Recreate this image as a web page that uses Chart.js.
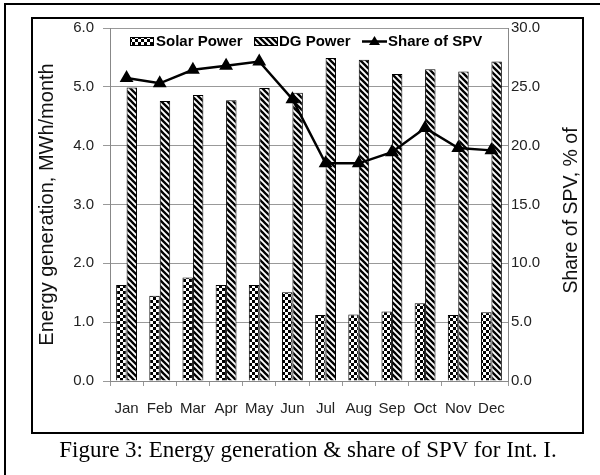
<!DOCTYPE html>
<html>
<head>
<meta charset="utf-8">
<script src="https://cdn.jsdelivr.net/npm/chart.js@4.4.1/dist/chart.umd.min.js"></script>
<style>
  html, body { margin: 0; padding: 0; background: #fff; width: 600px; height: 475px; overflow: hidden; }
  #wrap { position: relative; width: 600px; height: 475px; }
  #c { position: absolute; left: 0; top: 0; }
  .frame { position: absolute; pointer-events: none; box-sizing: border-box; }
  #outer { left: 4px; top: 3px; width: 700px; height: 600px; border-top: 2px solid #000; border-left: 2px solid #000; }
  #inner { left: 31px; top: 17px; width: 553px; height: 417px; border: 2px solid #000; }
  #caption { position: absolute; top: 437px; left: 308px; transform: translateX(-50%); white-space: nowrap;
             font-family: 'Liberation Serif', 'Times New Roman', serif; font-size: 23px; line-height: 26px; color: #000; }
</style>
</head>
<body>
<div id="wrap">
  <canvas id="c" width="600" height="475"></canvas>
  <div id="outer" class="frame"></div>
  <div id="inner" class="frame"></div>
  <div id="caption">Figure 3: Energy generation &amp; share of SPV for Int. I.</div>
</div>
<script>
// ---- data ----
const months = ['Jan','Feb','Mar','Apr','May','Jun','Jul','Aug','Sep','Oct','Nov','Dec'];
const solarPower = [1.63, 1.45, 1.76, 1.63, 1.63, 1.51, 1.12, 1.13, 1.18, 1.32, 1.12, 1.17];
const dgPower    = [4.99, 4.76, 4.86, 4.77, 4.98, 4.90, 5.49, 5.46, 5.22, 5.30, 5.26, 5.43];
const spvShare   = [25.75, 25.3, 26.45, 26.8, 27.15, 23.95, 18.5, 18.5, 19.45, 21.5, 19.8, 19.6];
const leftTicks  = [0, 1, 2, 3, 4, 5, 6];
const rightTicks = [0, 5, 10, 15, 20, 25, 30];
const seriesNames = ['Solar Power', 'DG Power', 'Share of SPV'];
const leftTitle  = 'Energy generation, MWh/month';
const rightTitle = 'Share of SPV, % of';

// ---- patterns ----
function checkerPattern() {
  const q = 3, c = document.createElement('canvas'); c.width = 2 * q; c.height = 2 * q;
  const x = c.getContext('2d');
  x.fillStyle = '#fff'; x.fillRect(0, 0, 2 * q, 2 * q);
  x.fillStyle = '#000'; x.fillRect(0, 0, q, q); x.fillRect(q, q, q, q);
  return x.createPattern(c, 'repeat');
}
function hatchPattern() {
  const s = 6;
  const c = document.createElement('canvas'); c.width = s; c.height = s;
  const x = c.getContext('2d');
  x.fillStyle = '#fff'; x.fillRect(0, 0, s, s);
  x.strokeStyle = '#000'; x.lineWidth = 2.3;
  for (let k = -1; k <= 1; k++) {
    x.beginPath(); x.moveTo(-1, k * s - 1); x.lineTo(s + 1, s + k * s + 1); x.stroke();
  }
  return x.createPattern(c, 'repeat');
}
const solarFill = checkerPattern();
const dgFill = hatchPattern();

const SANS = "'Liberation Sans', Arial, sans-serif";

// ---- legend + right title plugin ----
const customDraw = {
  id: 'customDraw',
  afterDraw(chart) {
    const ctx = chart.ctx;
    const byLabel = l => chart.data.datasets.find(d => d.label === l);
    const solar = byLabel(seriesNames[0]), dg = byLabel(seriesNames[1]), share = byLabel(seriesNames[2]);
    ctx.save();
    ctx.font = 'bold 15px ' + SANS;
    ctx.textBaseline = 'middle';
    ctx.textAlign = 'left';
    ctx.strokeStyle = '#000';
    const ly = 41.5;
    // Solar
    ctx.fillStyle = solar.backgroundColor; ctx.fillRect(130, 37, 24, 9);
    ctx.lineWidth = 1; ctx.strokeRect(130.5, 37.5, 23, 8);
    ctx.fillStyle = '#000'; ctx.fillText(solar.label, 156, ly);
    // DG
    ctx.fillStyle = dg.backgroundColor; ctx.fillRect(254, 37, 24, 9);
    ctx.strokeRect(254.5, 37.5, 23, 8);
    ctx.fillStyle = '#000'; ctx.fillText(dg.label, 279, ly);
    // Line
    ctx.beginPath(); ctx.lineWidth = 2.5; ctx.moveTo(362, ly); ctx.lineTo(387, ly); ctx.stroke();
    ctx.beginPath();
    ctx.moveTo(374.5, ly - 5.5); ctx.lineTo(380, ly + 3.5); ctx.lineTo(369, ly + 3.5); ctx.closePath(); ctx.fill();
    ctx.fillText(share.label, 388, ly);
    // Right axis title (reads bottom to top)
    const ry = chart.scales.y1;
    ctx.translate(572, (ry.top + ry.bottom) / 2 + 6);
    ctx.rotate(-Math.PI / 2);
    ctx.font = '19.5px ' + SANS;
    ctx.fillStyle = '#111';
    ctx.textAlign = 'center';
    ctx.fillText(rightTitle, 0, 0);
    ctx.restore();
  }
};

new Chart(document.getElementById('c'), {
  type: 'bar',
  data: {
    labels: months,
    datasets: [
      { type: 'line', label: seriesNames[2], data: spvShare, yAxisID: 'y1', order: 0,
        borderColor: '#000', backgroundColor: '#000', borderWidth: 2.5,
        pointStyle: 'triangle', pointRadius: 5.5, pointBackgroundColor: '#000', pointBorderColor: '#000',
        tension: 0 },
      { label: seriesNames[0], data: solarPower, yAxisID: 'y', order: 1,
        backgroundColor: solarFill, borderColor: '#000', borderWidth: 1,
        categoryPercentage: 0.63, barPercentage: 1.0 },
      { label: seriesNames[1], data: dgPower, yAxisID: 'y', order: 1,
        backgroundColor: dgFill, borderColor: '#000', borderWidth: 1,
        categoryPercentage: 0.63, barPercentage: 1.0 }
    ]
  },
  options: {
    responsive: false,
    maintainAspectRatio: false,
    animation: false,
    devicePixelRatio: 1,
    layout: { padding: { left: 32, right: 16, top: 28, bottom: 41 } },
    plugins: { legend: { display: false }, tooltip: { enabled: false } },
    scales: {
      x: {
        grid: { drawOnChartArea: false, offset: true, tickLength: 5, color: '#999' },
        border: { color: '#888' },
        ticks: { font: { family: SANS, size: 15 }, color: '#222', padding: 14, maxRotation: 0, autoSkip: false },
        afterFit(s) { s.height = 53; }
      },
      y: {
        position: 'left', min: 0, max: 6,
        afterBuildTicks(s) { s.ticks = leftTicks.map(v => ({ value: v })); },
        ticks: { font: { family: SANS, size: 15 }, color: '#222', padding: 9, callback: v => v.toFixed(1) },
        grid: { color: '#999', tickLength: 7 },
        border: { color: '#888' },
        title: { display: true, text: leftTitle, font: { family: SANS, size: 20 }, color: '#111', padding: { top: 3, bottom: 0 } },
        afterFit(s) { s.width = 78; }
      },
      y1: {
        position: 'right', min: 0, max: 30,
        afterBuildTicks(s) { s.ticks = rightTicks.map(v => ({ value: v })); },
        ticks: { font: { family: SANS, size: 15 }, color: '#222', padding: 3, callback: v => v.toFixed(1) },
        grid: { drawOnChartArea: false, drawTicks: false },
        border: { color: '#888' },
        afterFit(s) { s.width = 76; }
      }
    }
  },
  plugins: [customDraw]
});
</script>
</body>
</html>
